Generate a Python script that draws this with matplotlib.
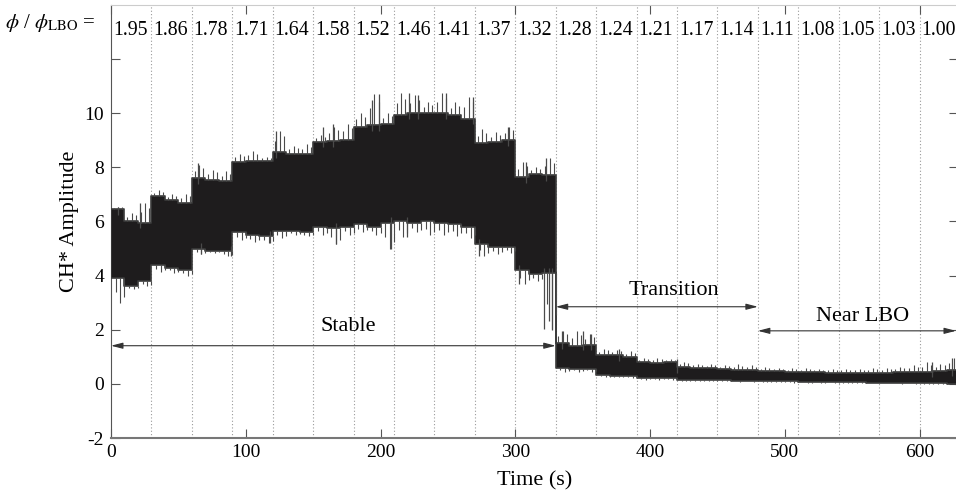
import numpy as np
import matplotlib
matplotlib.use("Agg")
import matplotlib.pyplot as plt

plt.rcParams['font.family'] = ['Liberation Serif', 'DejaVu Serif']
plt.rcParams['mathtext.fontset'] = 'stix'

# ---- data ----
seg_start = [0, 30, 60, 90, 120, 150, 180, 210, 240, 270, 300,
             330, 360, 390, 420, 450, 480, 510, 540, 570, 600]
phi_ratio = ["1.95", "1.86", "1.78", "1.71", "1.64", "1.58", "1.52", "1.46", "1.41", "1.37", "1.32",
             "1.28", "1.24", "1.21", "1.17", "1.14", "1.11", "1.08", "1.05", "1.03", "1.00"]

# envelope of the CH* signal in 10 s bins (main band)
bin_start = list(range(0, 630, 10))
band_upper = [6.45, 6.0, 5.95, 6.96, 6.8, 6.7, 7.6, 7.55, 7.5, 8.2, 8.25, 8.25,
              8.55, 8.5, 8.5, 8.94, 8.97, 9.0, 9.5, 9.55, 9.6, 9.93, 10.0, 10.0,
              10.0, 9.93, 9.8, 8.9, 8.94, 9.0, 7.64, 7.75, 7.7,
              1.5, 1.4, 1.45, 1.05, 1.05, 1.0, 0.8, 0.78, 0.8, 0.62, 0.6, 0.58,
              0.55, 0.53, 0.52, 0.47, 0.46, 0.45, 0.44, 0.43, 0.42, 0.42, 0.42, 0.42,
              0.42, 0.43, 0.44, 0.45, 0.48, 0.5]
band_lower = [3.9, 3.6, 3.8, 4.4, 4.3, 4.2, 5.0, 4.9, 4.9, 5.6, 5.5, 5.45,
              5.65, 5.65, 5.6, 5.79, 5.75, 5.79, 5.9, 5.8, 5.95, 6.0, 5.95, 6.0,
              5.95, 5.9, 5.8, 5.17, 5.05, 5.05, 4.2, 4.07, 4.1,
              0.6, 0.55, 0.55, 0.32, 0.3, 0.28, 0.22, 0.2, 0.2, 0.15, 0.14, 0.14,
              0.13, 0.12, 0.12, 0.1, 0.1, 0.09, 0.08, 0.07, 0.07, 0.06, 0.06, 0.05,
              0.05, 0.04, 0.04, 0.03, 0.02, 0.0]
# largest excursions in each 10 s bin
bin_peak = [6.55, 6.3, 6.7, 7.15, 7.0, 7.0, 8.1, 7.9, 7.85, 8.5, 8.6, 8.4,
            9.35, 8.8, 8.85, 9.2, 9.5, 9.6, 10.0, 10.7, 10.0, 10.75, 10.67, 10.4,
            10.73, 10.4, 10.6, 9.4, 9.3, 9.5, 8.2, 8.0, 8.33,
            1.96, 1.96, 1.85, 1.3, 1.25, 1.2, 0.95, 0.95, 0.92, 0.8, 0.75, 0.75,
            0.7, 0.72, 0.68, 0.62, 0.6, 0.58, 0.58, 0.56, 0.56, 0.56, 0.56, 0.6,
            0.6, 0.62, 0.7, 0.79, 0.75, 0.97]
bin_trough = [3.0, 3.5, 3.6, 4.15, 4.1, 4.0, 4.8, 4.85, 4.74, 5.3, 5.25, 5.2,
              5.4, 5.5, 5.45, 5.5, 5.18, 5.5, 5.6, 5.5, 4.99, 5.42, 5.6, 5.5,
              5.5, 5.45, 5.4, 4.74, 4.8, 4.85, 3.7, 3.8, 2.03,
              0.45, 0.45, 0.45, 0.25, 0.24, 0.22, 0.16, 0.15, 0.15, 0.1, 0.1, 0.1,
              0.09, 0.08, 0.08, 0.06, 0.06, 0.05, 0.04, 0.04, 0.04, 0.03, 0.03, 0.02,
              0.02, 0.01, 0.01, 0.0, -0.02, -0.03]
# extra individual excursions seen in the trace (time, value)
extra_up_t = [5.4, 21.5, 64.7, 122.7, 157, 164.7, 194, 198.7, 221, 228, 248.5,
              268.4, 294.4, 307.9, 322.7, 335, 350, 356, 377, 420, 609, 624]
extra_up_y = [6.55, 6.7, 8.15, 9.35, 9.5, 9.6, 10.48, 10.7, 10.75, 10.67, 10.73,
              10.6, 9.5, 8.2, 8.33, 1.96, 1.96, 1.85, 1.3, 0.92, 0.79, 0.97]
extra_dn_t = [67, 89, 118, 166.7, 207.9, 220, 273, 302.7, 321, 324.7, 327]
extra_dn_y = [4.8, 4.74, 5.2, 5.18, 4.99, 5.42, 4.74, 3.7, 2.03, 2.33, 2.0]

bin_len = 10
seg_len = 30
t_end = 630

fig = plt.figure(figsize=(9.56, 4.98), dpi=100)
ax = fig.add_axes([111/956, 60/498, (958-111)/956, (438-5)/498])
ax.set_xlim(0, 628.5)
ax.set_ylim(-2, 14)

# dotted segment separators
for s in seg_start[1:]:
    ax.axvline(s, color='#9a9a9a', ls=(0, (1, 2)), lw=0.8, zorder=1)

# signal band
x_edges = np.array(bin_start + [t_end], dtype=float)
up = np.array(band_upper + [band_upper[-1]])
lo = np.array(band_lower + [band_lower[-1]])
ax.fill_between(x_edges, lo, up, step='post', color='#1e1c1d', lw=1.2,
                edgecolor='#3c3c3c', zorder=3)

# excursions
spike_col = '#4a4a4a'
for i, t0 in enumerate(bin_start):
    for frac in (0.2, 0.55, 0.85):
        t = t0 + frac * bin_len
        scale = {0.2: 0.55, 0.55: 1.0, 0.85: 0.75}[frac]
        ax.vlines(t, band_upper[i], band_upper[i] + scale * (bin_peak[i] - band_upper[i]),
                  color=spike_col, lw=0.8, zorder=3)
        ax.vlines(t + 1.5, band_lower[i] - scale * (band_lower[i] - bin_trough[i]),
                  band_lower[i], color=spike_col, lw=0.8, zorder=3)

def band_at(t):
    i = min(int(t // bin_len), len(band_upper) - 1)
    return band_lower[i], band_upper[i]

for t, y in zip(extra_up_t, extra_up_y):
    lo_i, up_i = band_at(t)
    ax.vlines(t, up_i - 0.2, y, color=spike_col, lw=0.9, zorder=3)
for t, y in zip(extra_dn_t, extra_dn_y):
    lo_i, up_i = band_at(t)
    ax.vlines(t, y, lo_i + 0.2, color=spike_col, lw=0.9, zorder=3)

# phi labels along the top
for s, lab in zip(seg_start, phi_ratio):
    ax.text(s + 14.2, 13.05, lab, ha='center', va='center', fontsize=14.3,
            color='black', zorder=4)
fig.text(5/956, 1 - 23/498, r'$\phi$ / $\phi_{\mathrm{LBO}}$ =', ha='left', va='center',
         fontsize=15)

# regime arrows
arrow_kw = dict(arrowstyle='<|-|>,head_length=0.7,head_width=0.18', color='#333333',
                lw=0.8, shrinkA=0, shrinkB=0)
ax.annotate('', xy=(0, 1.41), xytext=(330, 1.41), arrowprops=arrow_kw, zorder=5)
ax.annotate('', xy=(330, 2.85), xytext=(480, 2.85), arrowprops=arrow_kw, zorder=5)
ax.annotate('', xy=(480, 1.96), xytext=(627, 1.96), arrowprops=arrow_kw, zorder=5)
ax.text(176, 2.12, 'Stable', ha='center', va='center', fontsize=16)
ax.text(418, 3.44, 'Transition', ha='center', va='center', fontsize=16)
ax.text(558, 2.48, 'Near LBO', ha='center', va='center', fontsize=16)

# axes styling
ax.set_xticks([0, 100, 200, 300, 400, 500, 600])
ax.set_yticks([-2, 0, 2, 4, 6, 8, 10, 12])
ax.set_yticklabels(['-2', '0', '2', '4', '6', '8', '10', ''])
ax.tick_params(direction='in', top=True, right=True, length=6.5, width=0.8,
               color='#555555', labelsize=14, pad=4)
ax.tick_params(axis='y', pad=5)
ax.spines['top'].set_color('#cccccc')
ax.spines['left'].set_color('#555555')
ax.spines['bottom'].set_color('#777777')
ax.spines['bottom'].set_linewidth(1.5)
ax.spines['right'].set_color('#555555')
ax.set_xlabel('Time (s)', fontsize=16, labelpad=8)
ax.set_ylabel('CH* Amplitude', fontsize=16, labelpad=4)

fig.savefig('out.png', dpi=100)
